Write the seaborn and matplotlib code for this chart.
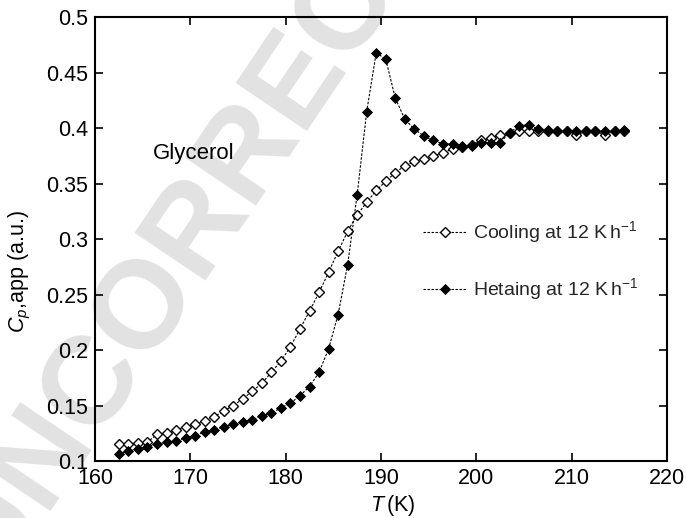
import matplotlib
matplotlib.use("Agg")
import matplotlib.pyplot as plt
import seaborn as sns

# Temperature grid (K), one reading per kelvin
temperature = [162.5, 163.5, 164.5, 165.5, 166.5, 167.5, 168.5, 169.5, 170.5, 171.5,
               172.5, 173.5, 174.5, 175.5, 176.5, 177.5, 178.5, 179.5, 180.5, 181.5,
               182.5, 183.5, 184.5, 185.5, 186.5, 187.5, 188.5, 189.5, 190.5, 191.5,
               192.5, 193.5, 194.5, 195.5, 196.5, 197.5, 198.5, 199.5, 200.5, 201.5,
               202.5, 203.5, 204.5, 205.5, 206.5, 207.5, 208.5, 209.5, 210.5, 211.5,
               212.5, 213.5, 214.5, 215.5]

# Apparent heat capacity on cooling (a.u.)
cp_cooling = [0.115, 0.115, 0.116, 0.117, 0.124, 0.125, 0.128, 0.131, 0.133, 0.136,
              0.140, 0.145, 0.150, 0.156, 0.163, 0.170, 0.180, 0.190, 0.203, 0.219,
              0.235, 0.252, 0.270, 0.289, 0.307, 0.322, 0.333, 0.344, 0.352, 0.360,
              0.366, 0.370, 0.372, 0.375, 0.378, 0.381, 0.383, 0.385, 0.389, 0.391,
              0.394, 0.396, 0.397, 0.397, 0.397, 0.397, 0.397, 0.397, 0.394, 0.397,
              0.397, 0.394, 0.397, 0.397]

# Apparent heat capacity on heating (a.u.)
cp_heating = [0.106, 0.109, 0.111, 0.113, 0.115, 0.117, 0.118, 0.121, 0.123, 0.126,
              0.128, 0.131, 0.133, 0.135, 0.137, 0.141, 0.143, 0.148, 0.152, 0.159,
              0.167, 0.180, 0.201, 0.232, 0.277, 0.340, 0.415, 0.468, 0.462, 0.427,
              0.408, 0.399, 0.393, 0.389, 0.386, 0.386, 0.384, 0.384, 0.387, 0.387,
              0.387, 0.396, 0.402, 0.403, 0.399, 0.398, 0.397, 0.397, 0.397, 0.397,
              0.397, 0.397, 0.397, 0.398]

x_ticks = [160, 170, 180, 190, 200, 210, 220]
y_ticks = [0.1, 0.15, 0.2, 0.25, 0.3, 0.35, 0.4, 0.45, 0.5]
y_tick_labels = ["0.1", "0.15", "0.2", "0.25", "0.3", "0.35", "0.4", "0.45", "0.5"]

sns.set_theme(style="ticks")
plt.rcParams["font.family"] = ["Liberation Sans", "DejaVu Sans"]
plt.rcParams["mathtext.fontset"] = "custom"
plt.rcParams["mathtext.rm"] = "Liberation Sans"
plt.rcParams["mathtext.it"] = "Liberation Sans:italic"
plt.rcParams["axes.unicode_minus"] = True

fig = plt.figure(figsize=(6.86, 5.18), dpi=100)
fig.patch.set_facecolor("white")

# Proof watermark, drawn underneath the axes
fig.text(-0.006, -0.143, "UNCORRECTED PROOF", fontsize=90, fontweight="bold",
         color="#e2e2e2", rotation=56, rotation_mode="anchor",
         ha="left", va="baseline", zorder=-1)

ax = fig.add_axes([0.1385, 0.110, 0.8338, 0.8568])
ax.patch.set_alpha(0)

line_kw = dict(color="black", linewidth=0.8, linestyle=(0, (2.2, 1.4)),
               marker="D", markeredgecolor="black")

sns.lineplot(x=temperature, y=cp_cooling, ax=ax, markersize=4.6,
             markerfacecolor="white", markeredgewidth=1.0,
             label=r"Cooling at 12 K$\,$h$^{-1}$", **line_kw)
sns.lineplot(x=temperature, y=cp_heating, ax=ax, markersize=5.2,
             markerfacecolor="black", markeredgewidth=0.6,
             label=r"Hetaing at 12 K$\,$h$^{-1}$", **line_kw)

ax.set_xlim(160, 220)
ax.set_ylim(0.1, 0.5)
ax.set_xticks(x_ticks)
ax.set_yticks(y_ticks)
ax.set_yticklabels(y_tick_labels)
ax.tick_params(direction="in", length=6, width=1.2, top=True, right=True,
               labelsize=15.5, color="black", labelcolor="black", pad=5)
for side in ["top", "bottom", "left", "right"]:
    ax.spines[side].set_visible(True)
    ax.spines[side].set_linewidth(1.5)
    ax.spines[side].set_color("black")

ax.set_xlabel(r"$T\,$(K)", fontsize=15.5, color="black")
ax.set_ylabel(r"$C_p$,app (a.u.)", fontsize=15.5, color="black")
ax.xaxis.set_label_coords(0.521, -0.071, transform=ax.transAxes)
ax.yaxis.set_label_coords(-0.108, 0.428, transform=ax.transAxes)

ax.text(166.1, 0.3775, "Glycerol", fontsize=16, color="black",
        ha="left", va="center")

ax.legend(loc="center left", bbox_to_anchor=(0.573, 0.451), frameon=False,
          fontsize=14, handlelength=2.26, handletextpad=0.31,
          labelspacing=1.6, borderpad=0, borderaxespad=0)

fig.savefig("out.png", dpi=100)
